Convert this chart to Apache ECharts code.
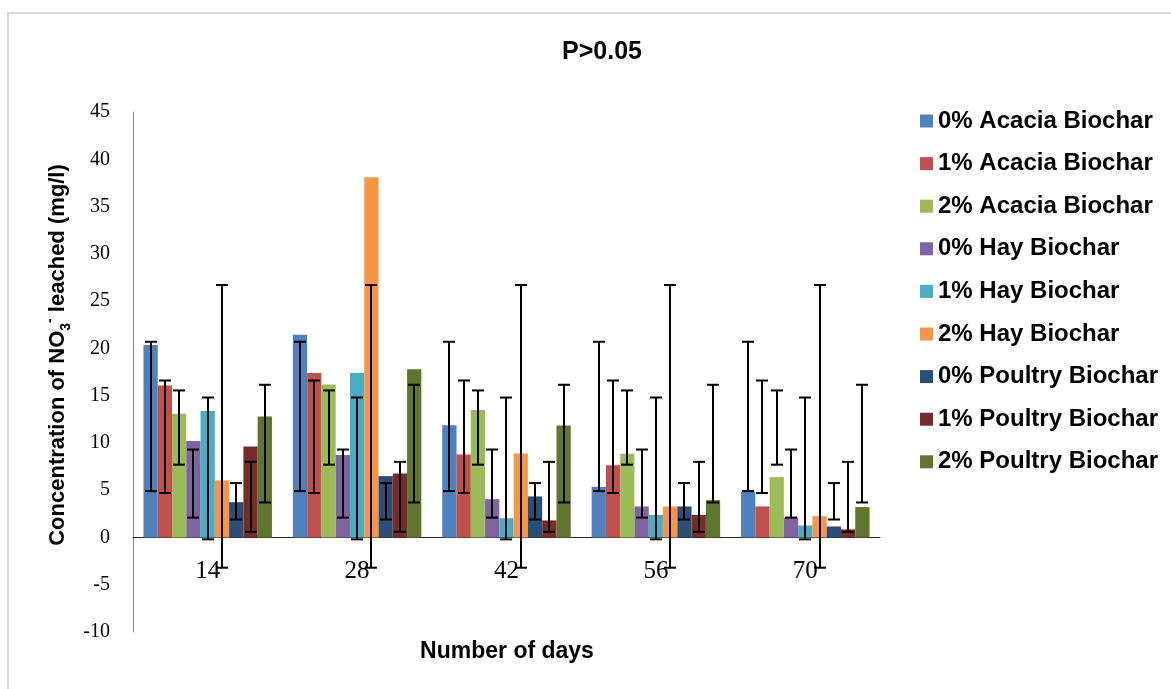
<!DOCTYPE html>
<html>
<head>
<meta charset="utf-8">
<script src="https://cdn.jsdelivr.net/npm/echarts@6/dist/echarts.min.js"></script>
<style>html,body{margin:0;padding:0;background:#fff}#c{width:1171px;height:689px}</style>
</head>
<body>
<div id="c"></div>
<script>
const categories = ['14', '28', '42', '56', '70'];
const seriesNames = ['0% Acacia Biochar', '1% Acacia Biochar', '2% Acacia Biochar', '0% Hay Biochar', '1% Hay Biochar', '2% Hay Biochar', '0% Poultry Biochar', '1% Poultry Biochar', '2% Poultry Biochar'];
const acacia0 = [20.35, 21.44, 11.88, 5.35, 4.83];
const acacia1 = [16.08, 17.39, 8.78, 7.65, 3.28];
const acacia2 = [13.08, 16.19, 13.47, 8.85, 6.38];
const hay0 = [10.19, 8.71, 4.05, 3.28, 2.12];
const hay1 = [13.37, 17.39, 2.04, 2.39, 1.27];
const hay2 = [6.03, 38.1, 8.89, 3.28, 2.25];
const poultry0 = [3.73, 6.49, 4.34, 3.28, 1.16];
const poultry1 = [9.63, 6.77, 1.8, 2.39, 0.85];
const poultry2 = [12.8, 17.8, 11.85, 3.95, 3.21];
// error bar ends (same for every day, per series)
const errLow = [4.9, 4.7, 7.7, 2.1, -0.2, -3.2, 1.9, 0.6, 3.7];
const errHigh = [20.7, 16.6, 15.55, 9.3, 14.8, 26.7, 5.75, 8.0, 16.15];
const yTicks = { min: -10, max: 45, interval: 5 };
const colors = ['#4F81BD', '#C0504D', '#9BBB59', '#8064A2', '#4BACC6', '#F79646', '#2C4D75', '#772C2A', '#5F7530'];

const values = [acacia0, acacia1, acacia2, hay0, hay1, hay2, poultry0, poultry1, poultry2];
const GAP = 0.14;
const SANS = '"Liberation Sans", Arial, sans-serif';
const SERIF = '"Liberation Serif", "Times New Roman", serif';

const barSeries = seriesNames.map((n, i) => ({
  name: n, type: 'bar', data: values[i], barGap: '0%', barCategoryGap: (GAP * 100) + '%',
  itemStyle: { color: colors[i] }, z: 2
}));

const errData = [];
categories.forEach((c, ci) => {
  seriesNames.forEach((n, si) => { errData.push([ci, errLow[si], errHigh[si], si]); });
});

const errSeries = {
  type: 'custom', name: 'err', z: 5, silent: true,
  data: errData,
  renderItem: function (params, api) {
    const cat = api.value(0), s = api.value(3);
    const lo = api.coord([cat, api.value(1)]);
    const hi = api.coord([cat, api.value(2)]);
    const band = api.size([1, 0])[0];
    const bw = band * (1 - GAP) / seriesNames.length;
    const x = Math.round(lo[0] - band * (1 - GAP) / 2 + bw * (s + 0.5));
    const cap = 6;
    const st = { stroke: '#000', lineWidth: 2 };
    return {
      type: 'group', children: [
        { type: 'line', shape: { x1: x, y1: lo[1], x2: x, y2: hi[1] }, style: st },
        { type: 'line', shape: { x1: x - cap, y1: hi[1], x2: x + cap, y2: hi[1] }, style: st },
        { type: 'line', shape: { x1: x - cap, y1: lo[1], x2: x + cap, y2: lo[1] }, style: st }
      ]
    };
  }
};

const chart = echarts.init(document.getElementById('c'));
chart.setOption({
  animation: false,
  backgroundColor: '#fff',
  title: {
    text: 'P>0.05', left: 597, top: 35, textAlign: 'center',
    textStyle: { fontFamily: SANS, fontWeight: 'bold', fontSize: 25, color: '#000' }
  },
  legend: {
    orient: 'vertical', left: 920, top: 109, padding: 0,
    itemWidth: 13, itemHeight: 13, itemGap: 18.6, icon: 'rect',
    data: seriesNames,
    textStyle: { fontFamily: SANS, fontWeight: 'bold', fontSize: 24, color: '#000' }
  },
  grid: { left: 133, right: 291, top: 112, bottom: 57, containLabel: false },
  xAxis: {
    type: 'category', data: categories,
    axisLine: { onZero: true, lineStyle: { color: '#262626', width: 1 } },
    axisTick: { show: false },
    axisLabel: { margin: -73, fontFamily: SERIF, fontSize: 25, color: '#000' }
  },
  yAxis: {
    type: 'value', min: yTicks.min, max: yTicks.max, interval: yTicks.interval,
    axisLine: { show: true, lineStyle: { color: '#868686', width: 1 } },
    axisTick: { show: false },
    splitLine: { show: false },
    axisLabel: { margin: 23, fontFamily: SERIF, fontSize: 20, color: '#000' }
  },
  graphic: [
    { type: 'rect', shape: { x: 8, y: 13, width: 1200, height: 720 }, style: { fill: 'none', stroke: '#d9d9d9', lineWidth: 2 }, z: -10, silent: true },
    {
      type: 'text', x: 58, y: 355, rotation: Math.PI / 2, silent: true,
      style: {
        text: 'Concentration of NO{sub|3}{sup|-} leached (mg/l)',
        fontFamily: SANS, fontWeight: 'bold', fontSize: 22, fill: '#000',
        align: 'center', verticalAlign: 'middle', lineHeight: 30,
        rich: {
          sub: { fontFamily: SANS, fontWeight: 'bold', fontSize: 14, verticalAlign: 'bottom', lineHeight: 30, padding: [10, 0, 0, 0] },
          sup: { fontFamily: SANS, fontWeight: 'bold', fontSize: 14, verticalAlign: 'top', lineHeight: 30, padding: [0, 0, 10, 0] }
        }
      }
    },
    {
      type: 'text', x: 507, y: 652, silent: true,
      style: { text: 'Number of days', fontFamily: SANS, fontWeight: 'bold', fontSize: 23, fill: '#000', align: 'center', verticalAlign: 'middle' }
    }
  ],
  series: barSeries.concat([errSeries])
});
</script>
</body>
</html>
